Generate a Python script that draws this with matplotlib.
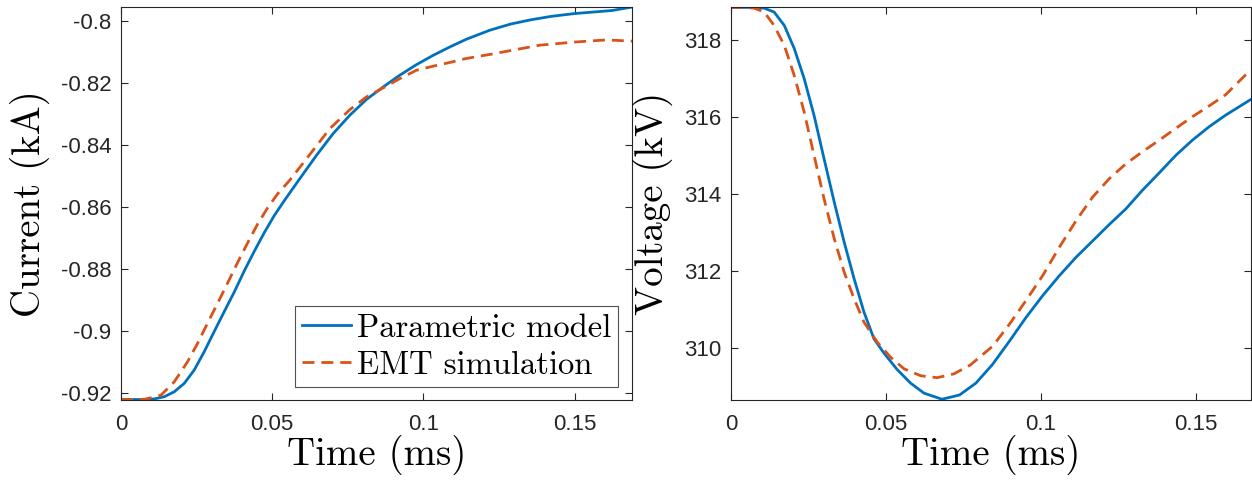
import matplotlib
matplotlib.use("Agg")
import matplotlib.pyplot as plt

# ---- data ----
t_cur_model = [0.0, 0.006, 0.011, 0.0143, 0.0176, 0.0209, 0.0242, 0.0275, 0.0308, 0.0341, 0.0375,
               0.0408, 0.0441, 0.0474, 0.0507, 0.054, 0.0592, 0.0647, 0.0702, 0.0757, 0.0812,
               0.0867, 0.0922, 0.0977, 0.1032, 0.1087, 0.1142, 0.1219, 0.1288, 0.1356, 0.1423,
               0.15, 0.1625, 0.169]
i_model = [-0.9222, -0.9222, -0.9220, -0.9213, -0.9197, -0.9170, -0.9127, -0.9068, -0.9003,
           -0.8939, -0.8874, -0.8806, -0.8743, -0.8683, -0.8628, -0.8580, -0.8508, -0.8433,
           -0.8363, -0.8304, -0.8253, -0.8213, -0.8175, -0.8141, -0.8111, -0.8084, -0.8059,
           -0.8030, -0.8010, -0.7996, -0.7985, -0.7976, -0.7966, -0.7955]

t_cur_emt = [0.0, 0.004, 0.008, 0.0132, 0.0176, 0.022, 0.0253, 0.0286, 0.0319, 0.0352, 0.0386,
             0.0419, 0.0452, 0.0485, 0.0518, 0.0558, 0.0614, 0.0691, 0.0757, 0.0812, 0.0867,
             0.0922, 0.0977, 0.1032, 0.1087, 0.1142, 0.1219, 0.1385, 0.15, 0.1605, 0.169]
i_emt = [-0.9222, -0.9222, -0.9221, -0.9208, -0.9165, -0.9100, -0.9041, -0.8976, -0.8912,
         -0.8847, -0.8779, -0.8716, -0.8655, -0.8603, -0.8558, -0.8514, -0.8444, -0.8347,
         -0.8286, -0.8245, -0.8216, -0.8186, -0.8159, -0.8146, -0.8134, -0.8121, -0.8108,
         -0.8078, -0.8068, -0.8061, -0.8065]

t_volt_model = [0.0, 0.006, 0.0107, 0.0139, 0.0172, 0.0204, 0.0236, 0.0268, 0.03, 0.0333, 0.0365,
                0.0397, 0.0429, 0.0461, 0.0494, 0.0536, 0.0579, 0.0622, 0.068, 0.0737, 0.079,
                0.0844, 0.0898, 0.0951, 0.1005, 0.1059, 0.1113, 0.1166, 0.122, 0.1274, 0.1327,
                0.1381, 0.1435, 0.1488, 0.1542, 0.1595, 0.1677]
v_model = [318.84, 318.84, 318.82, 318.72, 318.37, 317.77, 316.99, 316.03, 314.91, 313.78, 312.74,
           311.79, 310.92, 310.23, 309.85, 309.43, 309.08, 308.82, 308.66, 308.77, 309.08,
           309.57, 310.17, 310.78, 311.35, 311.87, 312.35, 312.77, 313.20, 313.61, 314.09,
           314.54, 315.00, 315.39, 315.74, 316.04, 316.45]

t_volt_emt = [0.0, 0.004, 0.0075, 0.0107, 0.0139, 0.0172, 0.0204, 0.0236, 0.0268, 0.03, 0.0333,
              0.0365, 0.0397, 0.0429, 0.0472, 0.0515, 0.0558, 0.0612, 0.0665, 0.0719, 0.0772,
              0.0844, 0.0898, 0.0951, 0.1005, 0.1059, 0.1113, 0.1166, 0.122, 0.1274, 0.1327,
              0.1381, 0.1435, 0.1488, 0.1542, 0.1595, 0.166, 0.1677]
v_emt = [318.84, 318.84, 318.82, 318.72, 318.37, 317.85, 317.07, 316.12, 314.99, 313.87, 312.83,
         311.96, 311.27, 310.66, 310.14, 309.75, 309.45, 309.27, 309.22, 309.32, 309.55,
         310.04, 310.61, 311.22, 311.87, 312.61, 313.30, 313.91, 314.39, 314.78, 315.09,
         315.39, 315.70, 316.00, 316.28, 316.57, 317.09, 317.20]

x_ticks = [0, 0.05, 0.1, 0.15]
x_ticklabels = ["0", "0.05", "0.1", "0.15"]
cur_ticks = [-0.92, -0.9, -0.88, -0.86, -0.84, -0.82, -0.8]
cur_ticklabels = ["-0.92", "-0.9", "-0.88", "-0.86", "-0.84", "-0.82", "-0.8"]
volt_ticks = [310, 312, 314, 316, 318]
volt_ticklabels = ["310", "312", "314", "316", "318"]

BLUE = "#0072BD"
ORANGE = "#D95319"
SPINE = "#262626"

plt.rcParams["font.family"] = ["Liberation Sans", "DejaVu Sans"]

W, H = 1252, 480
fig = plt.figure(figsize=(W / 100, H / 100), dpi=100)

def px_axes(x0, x1, y0, y1):
    return fig.add_axes([x0 / W, 1 - y1 / H, (x1 - x0) / W, (y1 - y0) / H])

ax1 = px_axes(121, 632, 7, 400)
ax2 = px_axes(731, 1251, 7, 400)

lw = 2.0
dash = (0, (4.3, 2.5))
ax1.plot(t_cur_model, i_model, color=BLUE, lw=lw, label="Parametric model")
ax1.plot(t_cur_emt, i_emt, color=ORANGE, lw=lw, ls=dash, label="EMT simulation")
ax2.plot(t_volt_model, v_model, color=BLUE, lw=lw)
ax2.plot(t_volt_emt, v_emt, color=ORANGE, lw=lw, ls=dash)

ax1.set_xlim(0, 0.169)
ax1.set_ylim(-0.92235, -0.79548)
ax2.set_xlim(0, 0.1677)
ax2.set_ylim(308.64, 318.85)

label_font = dict(family="cmr10", size=28)
for ax, yl, yt, ytl in [(ax1, "Current (kA)", cur_ticks, cur_ticklabels),
                        (ax2, "Voltage (kV)", volt_ticks, volt_ticklabels)]:
    ax.set_xticks(x_ticks)
    ax.set_xticklabels(x_ticklabels)
    ax.set_yticks(yt)
    ax.set_yticklabels(ytl)
    ax.tick_params(direction="in", length=5, width=0.8, color=SPINE, labelsize=16,
                   labelcolor="#262626", top=True, right=True)
    ax.tick_params(axis="x", pad=10)
    ax.tick_params(axis="y", pad=7)
    for s in ax.spines.values():
        s.set_color(SPINE)
        s.set_linewidth(0.8)
    ax.set_xlabel("Time (ms)", fontdict=label_font, labelpad=0)
    ax.set_ylabel(yl, fontdict=label_font, labelpad=8)

leg = ax1.legend(loc="lower right", bbox_to_anchor=(0.9726, 0.033),
                 prop=dict(family="cmr10", size=23.5), frameon=True,
                 fancybox=False, edgecolor="#262626", handlelength=1.5, handletextpad=0.18,
                 borderpad=0.22, labelspacing=0.25, borderaxespad=0.0)
leg.get_frame().set_linewidth(0.8)

fig.savefig("out.png", dpi=100)
